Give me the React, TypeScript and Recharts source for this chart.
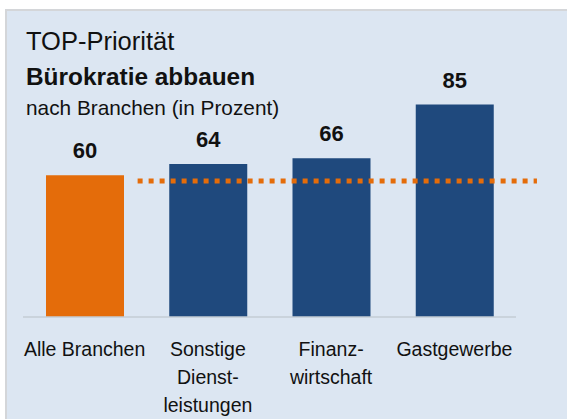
import { BarChart, Bar, XAxis, YAxis, Cell, LabelList, ReferenceLine } from "recharts";

const categories = ["Alle Branchen", "Sonstige Dienstleistungen", "Finanzwirtschaft", "Gastgewerbe"];
const tickLines = [["Alle Branchen"], ["Sonstige", "Dienst-", "leistungen"], ["Finanz-", "wirtschaft"], ["Gastgewerbe"]];
const values = [60, 64, 66, 85];
const barColors = ["#e46c0a", "#1f497d", "#1f497d", "#1f497d"];
const avgValue = 58;
// where the dotted line starts/ends, in category units (0..4)
const avgFrom = 0.93;
const avgTo = 4.17;

const data = categories.map((name, i) => ({ name, value: values[i] }));

const FONT = '"Liberation Sans", Arial, sans-serif';

function CategoryTick(props: any) {
  const { x, y, payload } = props;
  const lines = tickLines[payload.index] || [payload.value];
  return (
    <text x={x} y={y} textAnchor="middle" fontSize={19.5} fill="#111" fontFamily={FONT}>
      {lines.map((l, i) => (
        <tspan key={i} x={x} dy={i === 0 ? 39 : 28}>
          {l}
        </tspan>
      ))}
    </text>
  );
}

// dotted average line, stretched along the plot in category units
function AvgLine(props: any) {
  const { x1, x2, y1 } = props;
  const unit = (x2 - x1) / categories.length;
  return (
    <line
      x1={x1 + unit * avgFrom}
      x2={x1 + unit * avgTo}
      y1={y1}
      y2={y1}
      stroke="#e46c0a"
      strokeWidth={5}
      strokeDasharray="5 6"
    />
  );
}

export default function App() {
  return (
    <div
      style={{
        position: "absolute",
        left: 0,
        top: 0,
        width: 567,
        height: 419,
        background: "#ffffff",
        fontFamily: FONT,
        overflow: "hidden",
      }}
    >
      <div
        style={{
          position: "absolute",
          left: 5,
          top: 9,
          right: 0,
          bottom: 0,
          background: "#dce6f2",
          borderTop: "2px solid #d4d6d9",
          borderLeft: "2px solid #d4d6d9",
        }}
      />
      <svg width={567} height={419} style={{ position: "absolute", left: 0, top: 0 }}>
        <text x={26} y={50} fontSize={25.5} fill="#111" fontFamily={FONT}>
          TOP-Priorität
        </text>
        <text x={26} y={85} fontSize={24.4} fontWeight="bold" fill="#111" fontFamily={FONT}>
          Bürokratie abbauen
        </text>
        <text x={26} y={115} fontSize={20.8} fill="#111" fontFamily={FONT}>
          nach Branchen (in Prozent)
        </text>
      </svg>
      <div style={{ position: "absolute", left: 0, top: 0 }}>
        <BarChart width={567} height={419} data={data} margin={{ top: 62, right: 51, left: 23, bottom: 0 }}>
          <XAxis
            dataKey="name"
            interval={0}
            height={102}
            tickLine={false}
            tickSize={0}
            tickMargin={0}
            axisLine={{ stroke: "#c5ccd5", strokeWidth: 1.5 }}
            tick={<CategoryTick />}
          />
          <YAxis hide type="number" domain={[10, 100]} />
          <Bar dataKey="value" barSize={78} isAnimationActive={false}>
            {data.map((d, i) => (
              <Cell key={d.name} fill={barColors[i]} />
            ))}
            <LabelList
              dataKey="value"
              position="top"
              offset={17}
              style={{ fontSize: 22, fontWeight: "bold", fill: "#111", fontFamily: FONT }}
            />
          </Bar>
          <ReferenceLine y={avgValue} ifOverflow="visible" shape={<AvgLine />} />
        </BarChart>
      </div>
    </div>
  );
}
